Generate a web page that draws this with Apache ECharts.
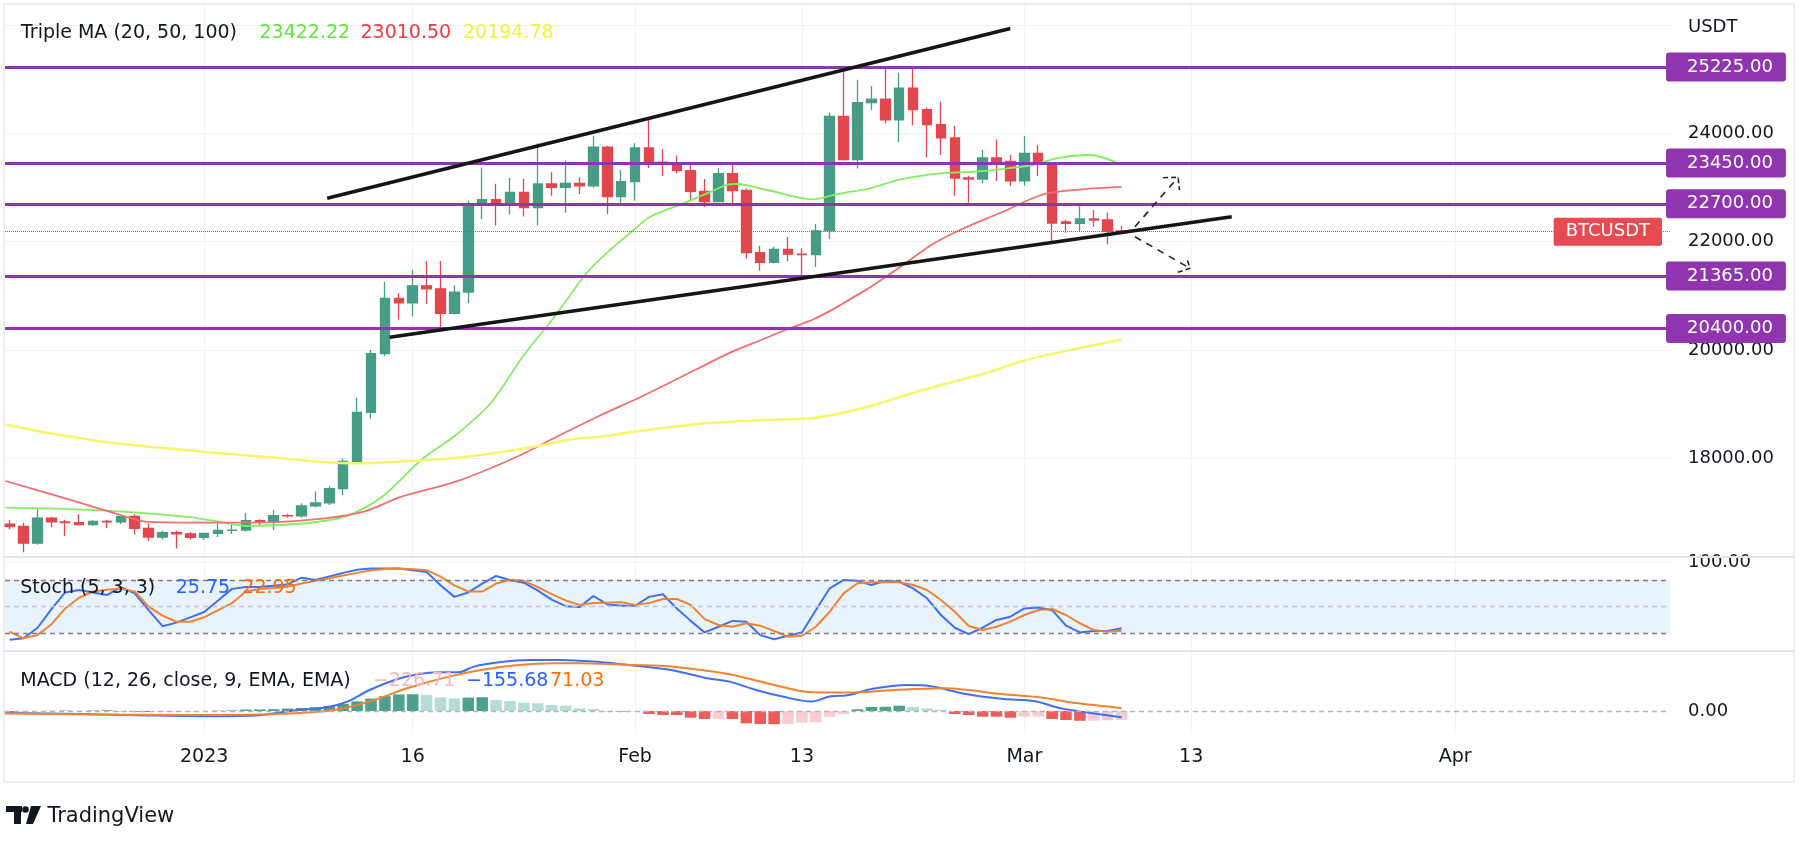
<!DOCTYPE html>
<html>
<head>
<meta charset="utf-8">
<title>BTCUSDT daily</title>
<script src="https://cdn.jsdelivr.net/npm/echarts@6/dist/echarts.min.js"></script>
<style>
  html, body { margin: 0; padding: 0; background: #fff; }
  #chart { width: 1800px; height: 844px; }
</style>
</head>
<body>
<div id="chart"></div>
<script>
// daily candles, index 0 = 18 Dec 2022, last = 8 Mar 2023
const opens = [16790, 16745, 16438, 16900, 16830, 16818, 16780, 16840, 16830, 16930,
  16710, 16550, 16630, 16610, 16545, 16620, 16675, 16680, 16855, 16830,
  16945, 16940, 17125, 17180, 17445, 17945, 18850, 19935, 20955, 20870,
  21185, 21130, 20680, 21070, 22700, 22775, 22700, 22910, 22630, 23065,
  23005, 23075, 23030, 23745, 22830, 23110, 23730, 23470, 23430, 23310,
  22930, 22740, 23255, 22945, 21800, 21620, 21860, 21770, 21760, 22200,
  24310, 23515, 24565, 24630, 24250, 24835, 24435, 24160, 23915, 23175,
  23155, 23545, 23480, 23125, 23630, 23450, 22365, 22340, 22420, 22400, 22200]
const closes = [16745, 16438, 16900, 16830, 16818, 16780, 16840, 16830, 16930, 16710,
  16550, 16630, 16610, 16545, 16620, 16675, 16680, 16855, 16830, 16945,
  16940, 17125, 17180, 17445, 17945, 18850, 19935, 20955, 20870, 21185,
  21130, 20680, 21070, 22700, 22775, 22700, 22910, 22630, 23065, 23005,
  23075, 23030, 23745, 22830, 23110, 23730, 23470, 23430, 23310, 22930,
  22740, 23255, 22945, 21800, 21620, 21860, 21770, 21760, 22200, 24310,
  23515, 24565, 24630, 24250, 24835, 24435, 24160, 23915, 23175, 23155,
  23545, 23480, 23125, 23630, 23450, 22345, 22340, 22420, 22400, 22190, 22185]
const highs = [16865, 16815, 17063, 16925, 16870, 16975, 16865, 16865, 16945, 16970,
  16800, 16665, 16665, 16645, 16630, 16800, 16780, 16995, 16880, 17045,
  16980, 17175, 17395, 17490, 18000, 19120, 20000, 21260, 21050, 21475,
  21645, 21645, 21190, 22755, 23370, 23070, 23175, 23160, 23815, 23280,
  23495, 23190, 23955, 23770, 23320, 23815, 24250, 23710, 23590, 23430,
  23155, 23360, 23450, 22985, 21925, 21905, 22085, 21880, 22325, 24380,
  25230, 24990, 24875, 25190, 25115, 25230, 24470, 24585, 24135, 23215,
  23690, 23885, 23600, 23950, 23780, 23470, 22405, 22670, 22585, 22540, 22295]
const lows = [16694, 16270, 16410, 16730, 16570, 16770, 16760, 16715, 16790, 16600,
  16480, 16505, 16340, 16500, 16500, 16550, 16605, 16655, 16755, 16680,
  16910, 16910, 17095, 17140, 17320, 17900, 18740, 19890, 20560, 20620,
  20850, 20420, 20655, 20870, 22420, 22300, 22500, 22465, 22300, 22850,
  22535, 22880, 23000, 22510, 22710, 22755, 23360, 23210, 23260, 22750,
  22640, 22740, 22670, 21690, 21470, 21600, 21640, 21355, 21535, 22050,
  23500, 23350, 24430, 24185, 23840, 24150, 23560, 23600, 22850, 22720,
  23080, 23120, 23030, 23030, 23210, 21980, 22165, 22180, 22275, 21955, 22155]

// moving averages, [candle index, price]
const ma20 = [[-0.3, 17092], [4.8, 17063], [9, 17007], [13.1, 16915], [15, 16834], [17.2, 16755],
  [21.3, 16805], [24.1, 16926], [26.8, 17295], [29.6, 17972], [32.1, 18434], [34.6, 19019],
  [37, 19910], [39.2, 20616], [41.5, 21417], [43.2, 21847], [44.9, 22216], [46.1, 22461],
  [48.5, 22708], [49.9, 22862], [51.6, 23046], [52.3, 23065], [54.5, 22954], [57.8, 22782],
  [59.3, 22862], [60.5, 22923], [61.9, 22985], [64.1, 23151], [66.9, 23262], [69.3, 23291],
  [71.2, 23336], [73.6, 23415], [75.3, 23539], [77.7, 23600], [80, 23422.22]]
const ma50 = [[-0.3, 17585], [4.8, 17203], [7.6, 16989], [9.8, 16834], [13.1, 16816], [18.6, 16823],
  [22.7, 16897], [25.5, 17019], [28.2, 17295], [32.1, 17572], [36.5, 18033], [39.6, 18434],
  [42.3, 18771], [45.7, 19172], [49.7, 19683], [51.8, 19950], [54.2, 20200], [55.8, 20371],
  [57.8, 20565], [59.3, 20760], [60.5, 20945], [61.7, 21125], [64.1, 21539], [66.5, 21970],
  [68.9, 22277], [71.2, 22524], [73.6, 22801], [74.9, 22904], [77.2, 22967], [80, 23010.5]]
const ma100 = [[-0.3, 18627], [2.9, 18465], [7.6, 18281], [13.9, 18126], [18.6, 18022], [22.2, 17941],
  [25.2, 17912], [27.9, 17941], [31.8, 18004], [35.1, 18107], [38.4, 18249], [40.4, 18354],
  [42.5, 18402], [44.9, 18495], [50.2, 18650], [54.2, 18711], [57.7, 18742], [59.8, 18834],
  [62.2, 18987], [64.9, 19203], [67.5, 19388], [70.2, 19572], [73.1, 19817], [76.9, 20033],
  [80, 20194.78]]

// stochastic %K / %D per candle
const stochK = [12.8, 14.5, 26, 47, 66, 68.7, 66, 63, 72, 65,
  46, 28, 32, 38, 44, 57, 70, 72, 72, 73.5,
  75, 82.6, 80, 84, 88, 91.5, 93, 93, 93, 91,
  89, 74, 61, 66, 76, 84.5, 80, 77, 68, 58,
  50.5, 49.5, 62, 52.5, 51, 51, 61, 64, 48, 34,
  21, 27.4, 34, 33, 18, 13.3, 17.3, 21, 46, 70.6,
  80, 79, 74.4, 79, 78, 70.6, 59.4, 40.6, 26.3, 19,
  26.3, 35, 38.7, 48, 49, 46, 28.6, 21, 22.6, 22.6, 25.75]
const stochD = [22, 14.4, 18, 30, 48, 60, 67, 69, 70, 67,
  50, 40, 33, 33, 38, 46, 54, 67, 70, 71,
  72.5, 76, 79, 82, 85, 88, 91, 92.4, 93, 92,
  91, 83.7, 74, 67, 67, 76, 80, 79, 72, 64,
  57, 52, 54, 54.5, 55, 52, 54, 58.6, 58.6, 52,
  36, 29.4, 27.4, 31.3, 28.6, 22.6, 16.2, 17.3, 27.4, 44.3,
  65, 76.3, 77.4, 77.4, 77.4, 74.4, 68.7, 57.5, 44.3, 28.2,
  23.7, 27.4, 33.1, 40.6, 46.2, 47.4, 40.6, 31.3, 23.7, 21.8, 22.95]

// MACD (12, 26, 9)
const macdHist = [-40, -30, -10, 5, 10, 8, 12, 18, -10, -20,
  -25, -22, -18, -12, -5, 8, 15, 35, 40, 45,
  60, 75, 95, 125, 180, 240, 310, 370, 415, 420,
  400, 342, 317, 335, 345, 275, 250, 208, 192, 150,
  133, 67, 50, -8, -17, -15, -75, -100, -100, -167,
  -200, -195, -200, -308, -325, -330, -325, -292, -283, -142,
  -75, 42, 100, 105, 133, 100, 67, 33, -75, -100,
  -142, -142, -167, -142, -140, -200, -225, -245, -240, -232, -226.71]
const macdLine = [[-0.3, -50], [5, -75], [10, -110], [14, -130], [18, -105], [20.6, 17], [22.7, 85],
  [24.3, 235], [25.9, 525], [28.1, 817], [29.9, 942], [31.3, 967], [32.3, 967], [33.4, 1110],
  [35.2, 1217], [37.4, 1275], [39.6, 1275], [42, 1235], [44.9, 1135], [47.6, 1025], [50.2, 817],
  [51.8, 735], [53.7, 525], [55.6, 360], [57.7, 235], [59, 360], [60.4, 400], [62, 550],
  [64.6, 650], [66.2, 625], [68.9, 417], [71.5, 300], [73.7, 250], [75.6, 67], [77.4, -33],
  [80, -155.68]]
const signalLine = [[-0.3, -60], [6, -85], [12.6, -100], [17, -95], [20.6, -58], [23.3, 25],
  [25.9, 235], [28.6, 567], [31.3, 835], [33.9, 1025], [36.6, 1150], [39.2, 1192], [41, 1192],
  [44.9, 1150], [47.6, 1110], [51.8, 917], [54.5, 692], [57.7, 467], [60.4, 460], [63.6, 525],
  [67.3, 567], [71.5, 417], [74.2, 335], [76.9, 192], [80, 71.03]]

// drawings
const levels = [25225, 23450, 22700, 21365, 20400]
const upperTrend = [[22.85, 22801], [71.99, 25934]]
const lowerTrend = [[27.34, 20236], [87.92, 22461]]
const arrowUp = [[80.96, 22277], [84.06, 23188]]
const arrowUpHead = [[82.98, 23181], [84.06, 23188], [84.16, 22954]]
const arrowDown = [[80.96, 22092], [84.92, 21509]]
const arrowDownHead = [[84.05, 21435], [84.92, 21509], [84.69, 21694]]

// time scale ticks (candle index)
const tickIdx = [14, 29, 45, 57, 73, 85, 104]
const tickLabels = ['2023', '16', 'Feb', '13', 'Mar', '13', 'Apr']

const font = 'DejaVu Sans'
const textColor = '#131722'
const upColor = '#469c85'
const downColor = '#e2474e'
const purple = '#9035b0'
const blue = '#3f6ff5'
const orange = '#f5822f'
const xMin = -0.33
const xMax = 119.45
const lastPrice = closes[closes.length - 1]

const chart = echarts.init(document.getElementById('chart'))

function histColor(i) {
  const v = macdHist[i]
  const prev = i > 0 ? macdHist[i - 1] : v
  if (v >= 0) return prev < v ? '#4ca08d' : '#b5dcd6'
  return prev < v ? '#f8ccd1' : '#ef5b58'
}

function txt(x, y, text, fill, size) {
  return {
    type: 'text', x: x, y: y, z: 100,
    style: { text: text, fill: fill, fontSize: size || 19, fontFamily: font, verticalAlign: 'middle', align: 'left' }
  }
}

function hline(y) {
  return { type: 'line', z: 50, shape: { x1: 4, y1: y, x2: 1794, y2: y }, style: { stroke: '#e0e3eb', lineWidth: 2 } }
}

const hiddenX = { type: 'value', min: xMin, max: xMax, show: false }

chart.setOption({
  animation: false,
  backgroundColor: '#ffffff',
  grid: [
    { left: 5, right: 130, top: 24.9, height: 542 },
    { left: 5, right: 130, top: 562.2, height: 88.9 },
    { left: 5, right: 130, top: 651, height: 80 },
    { left: 5, right: 130, top: 5, height: 726 }
  ],
  xAxis: [
    Object.assign({ gridIndex: 0 }, hiddenX),
    Object.assign({ gridIndex: 1 }, hiddenX),
    Object.assign({ gridIndex: 2 }, hiddenX),
    {
      type: 'value', gridIndex: 3, min: xMin, max: xMax,
      axisLine: { show: false },
      axisTick: { show: false, customValues: tickIdx },
      axisLabel: {
        customValues: tickIdx,
        formatter: v => tickLabels[tickIdx.indexOf(v)],
        margin: 17, color: textColor, fontSize: 19, fontFamily: font
      },
      splitLine: { show: true, lineStyle: { color: '#f0f2f6', width: 1 } }
    }
  ],
  yAxis: [
    {
      type: 'value', gridIndex: 0, position: 'right', min: 16000, max: 26000, interval: 2000,
      axisLine: { show: false }, axisTick: { show: false },
      axisLabel: {
        formatter: v => v.toFixed(2), showMinLabel: false, showMaxLabel: false,
        margin: 18, color: textColor, fontSize: 18, fontFamily: font
      },
      splitLine: { show: true, showMinLine: false, lineStyle: { color: '#f0f2f6' } }
    },
    {
      type: 'value', gridIndex: 1, position: 'right', min: 0, max: 100, interval: 100,
      axisLine: { show: false }, axisTick: { show: false },
      axisLabel: { formatter: v => (v === 100 ? '100.00' : ''), margin: 18, color: textColor, fontSize: 18, fontFamily: font },
      splitLine: { show: true, lineStyle: { color: '#f0f2f6' } }
    },
    {
      type: 'value', gridIndex: 2, position: 'right', min: -500, max: 1500, interval: 500,
      axisLine: { show: false }, axisTick: { show: false },
      axisLabel: { formatter: v => (v === 0 ? '0.00' : ''), margin: 18, color: textColor, fontSize: 18, fontFamily: font },
      splitLine: { show: false }
    },
    { type: 'value', gridIndex: 3, min: 0, max: 1, show: false }
  ],
  series: [
    {
      name: 'BTCUSDT', type: 'candlestick', xAxisIndex: 0, yAxisIndex: 0, z: 2,
      data: opens.map((o, i) => [i, o, closes[i], lows[i], highs[i]]),
      encode: { x: 0, y: [1, 2, 3, 4] },
      barWidth: 10,
      itemStyle: { color: upColor, color0: downColor, borderColor: upColor, borderColor0: downColor, borderWidth: 1.3 },
      markLine: {
        symbol: 'none', silent: true, animation: false,
        data: levels.map(v => ({
          yAxis: v,
          lineStyle: { color: purple, width: 3, type: 'solid' },
          label: {
            show: true, position: 'end', distance: -4, formatter: v.toFixed(2),
            color: '#fff', backgroundColor: purple, padding: [6, 13, 5, 21],
            fontSize: 18, fontFamily: font, borderRadius: 3
          }
        })).concat([{
          yAxis: lastPrice,
          lineStyle: { color: '#f23645', width: 1, type: 'dotted' },
          label: {
            show: true, position: 'insideEnd', distance: 8, formatter: 'BTCUSDT',
            color: '#fff', backgroundColor: '#e84a52', padding: [5, 12, 5, 12],
            fontSize: 18, fontFamily: font, borderRadius: 2
          }
        }])
      }
    },
    { name: 'MA20', type: 'line', xAxisIndex: 0, yAxisIndex: 0, data: ma20, showSymbol: false, smooth: 0.3, z: 3,
      lineStyle: { color: '#84ee62', width: 1.8 } },
    { name: 'MA50', type: 'line', xAxisIndex: 0, yAxisIndex: 0, data: ma50, showSymbol: false, smooth: 0.3, z: 3,
      lineStyle: { color: '#f07070', width: 1.8 } },
    { name: 'MA100', type: 'line', xAxisIndex: 0, yAxisIndex: 0, data: ma100, showSymbol: false, smooth: 0.3, z: 3,
      lineStyle: { color: '#faf46c', width: 2.5 } },
    { name: 'upper', type: 'line', xAxisIndex: 0, yAxisIndex: 0, data: upperTrend, showSymbol: false, z: 6,
      lineStyle: { color: '#151515', width: 3.5 } },
    { name: 'lower', type: 'line', xAxisIndex: 0, yAxisIndex: 0, data: lowerTrend, showSymbol: false, z: 6,
      lineStyle: { color: '#151515', width: 3.5 } },
    { name: 'up', type: 'line', xAxisIndex: 0, yAxisIndex: 0, data: arrowUp, showSymbol: false, z: 6,
      lineStyle: { color: '#222', width: 1.6, type: [7, 6] } },
    { name: 'upHead', type: 'line', xAxisIndex: 0, yAxisIndex: 0, data: arrowUpHead, showSymbol: false, z: 6,
      lineStyle: { color: '#222', width: 1.6, type: [5, 3] } },
    { name: 'down', type: 'line', xAxisIndex: 0, yAxisIndex: 0, data: arrowDown, showSymbol: false, z: 6,
      lineStyle: { color: '#222', width: 1.6, type: [7, 6] } },
    { name: 'downHead', type: 'line', xAxisIndex: 0, yAxisIndex: 0, data: arrowDownHead, showSymbol: false, z: 6,
      lineStyle: { color: '#222', width: 1.6, type: [5, 3] } },
    {
      name: '%K', type: 'line', xAxisIndex: 1, yAxisIndex: 1, data: stochK.map((v, i) => [i, v]),
      showSymbol: false, z: 3, lineStyle: { color: blue, width: 2 },
      markArea: { silent: true, itemStyle: { color: '#e9f3fd' }, data: [[{ yAxis: 20 }, { yAxis: 80 }]] },
      markLine: {
        symbol: 'none', silent: true, label: { show: false },
        data: [
          { yAxis: 80, lineStyle: { color: '#7c7f88', width: 1.3, type: [5, 4] } },
          { yAxis: 50, lineStyle: { color: '#c3c5cc', width: 1.3, type: [5, 4] } },
          { yAxis: 20, lineStyle: { color: '#7c7f88', width: 1.3, type: [5, 4] } }
        ]
      }
    },
    { name: '%D', type: 'line', xAxisIndex: 1, yAxisIndex: 1, data: stochD.map((v, i) => [i, v]),
      showSymbol: false, z: 3, lineStyle: { color: orange, width: 2 } },
    {
      name: 'Histogram', type: 'bar', xAxisIndex: 2, yAxisIndex: 2, barWidth: 11.5,
      data: macdHist.map((v, i) => ({ value: [i, v], itemStyle: { color: histColor(i) } })),
      markLine: {
        symbol: 'none', silent: true, label: { show: false },
        data: [{ yAxis: 0, lineStyle: { color: '#b2b5be', width: 1.3, type: [5, 4] } }]
      }
    },
    { name: 'MACD', type: 'line', xAxisIndex: 2, yAxisIndex: 2, data: macdLine, showSymbol: false, smooth: 0.3, z: 3,
      lineStyle: { color: blue, width: 2 } },
    { name: 'Signal', type: 'line', xAxisIndex: 2, yAxisIndex: 2, data: signalLine, showSymbol: false, smooth: 0.3, z: 3,
      lineStyle: { color: orange, width: 2 } }
  ],
  graphic: [
    { type: 'rect', z: 50, shape: { x: 4, y: 4, width: 1790, height: 778 }, style: { fill: 'none', stroke: '#e6e8ee', lineWidth: 1.5 } },
    hline(557),
    hline(651),
    txt(1688, 27.5, 'USDT', textColor, 18),
    txt(21, 33.3, 'Triple MA (20, 50, 100)', textColor),
    txt(259.5, 33.3, '23422.22', '#5fe83c'),
    txt(360.5, 33.3, '23010.50', '#ef3b3b'),
    txt(463, 33.3, '20194.78', '#f6f03e'),
    txt(20.3, 588.3, 'Stoch (5, 3, 3)', textColor),
    txt(175.7, 588.3, '25.75', '#2962ff'),
    txt(242.3, 588.3, '22.95', '#ff6d00'),
    txt(20.3, 681.3, 'MACD (12, 26, close, 9, EMA, EMA)', textColor),
    txt(373, 681.3, '\u2212226.71', '#f6b8c0'),
    txt(466, 681.3, '\u2212155.68', '#2962ff'),
    txt(550, 681.3, '71.03', '#ff6d00'),
    // TradingView mark
    { type: 'rect', z: 100, shape: { x: 6, y: 806, width: 16, height: 6 }, style: { fill: textColor } },
    { type: 'rect', z: 100, shape: { x: 14, y: 806, width: 7, height: 18 }, style: { fill: textColor } },
    { type: 'circle', z: 100, shape: { cx: 25.5, cy: 809.5, r: 3.3 }, style: { fill: textColor } },
    { type: 'polygon', z: 100, shape: { points: [[31, 806], [41, 806], [33, 824], [26, 824]] }, style: { fill: textColor } },
    txt(47.4, 816.7, 'TradingView', textColor, 21)
  ]
})
</script>
</body>
</html>
